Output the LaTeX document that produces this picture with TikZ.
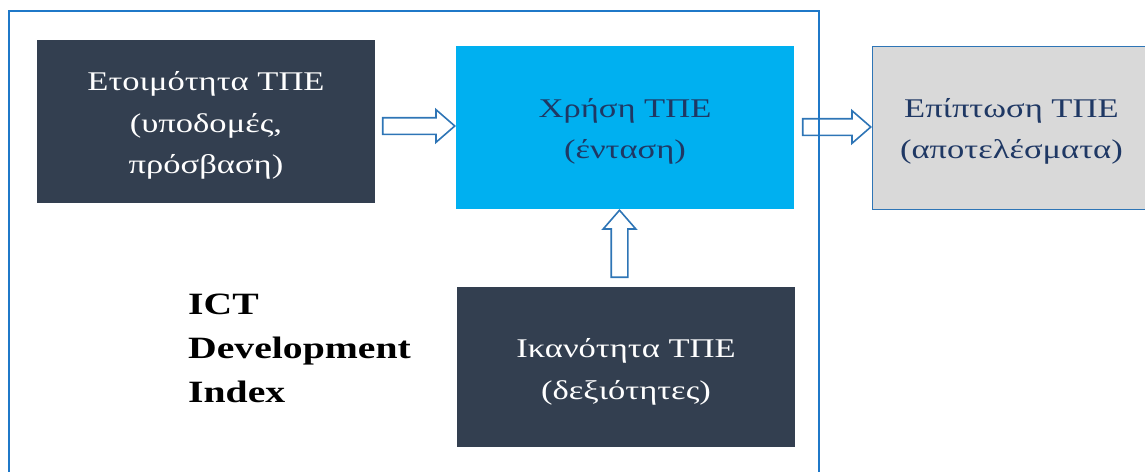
\documentclass[tikz,border=0pt]{standalone}
\usepackage{fontspec}
\setmainfont{Liberation Serif}[FakeStretch=1.28]
\usetikzlibrary{shapes.arrows}
\definecolor{slate}{HTML}{333F50}
\definecolor{skyfill}{HTML}{00B0F0}
\definecolor{greyfill}{HTML}{D9D9D9}
\definecolor{lineblue}{HTML}{2E75B6}
\definecolor{framblue}{HTML}{1F78C8}
\definecolor{navy}{HTML}{1F3864}
\tikzset{
  darkbox/.style={rectangle, fill=slate, draw=none,
    minimum width=338pt, minimum height=163pt, inner sep=0pt},
  boxtext/.style={align=center, inner sep=0pt, text=white,
    font=\fontsize{27}{41.5}\selectfont},
  navytext/.style={boxtext, text=navy},
  blockarrow/.style={single arrow, draw=lineblue, line width=1.6pt, fill=white,
    minimum width=31pt, single arrow head extend=8pt, single arrow tip angle=82,
    inner xsep=0pt, inner ysep=7.5pt, outer sep=0pt, font=\fontsize{1}{1}\selectfont},
}
\begin{document}
\begin{tikzpicture}[x=1pt,y=-1pt]
\useasboundingbox (0,0) rectangle (1145,471);
\begin{scope}
\clip (0,0) rectangle (1145,471);
% outer frame of the index
\draw[framblue, line width=2pt] (8.5,480) -- (8.5,10.5) -- (819,10.5) -- (819,480);

\node[darkbox] (ready) at (206,121.5) {};
\node[boxtext] (readyt) at ([yshift=-4pt]ready.center) {Ετοιμότητα ΤΠΕ\\(υποδομές,\\πρόσβαση)};

\node[darkbox, fill=skyfill] (use) at (625,127.5) {};
\node[navytext] (uset) at ([yshift=-4pt]use.center) {Χρήση ΤΠΕ\\(ένταση)};

\node[darkbox, fill=greyfill, draw=lineblue, line width=0.8pt, minimum width=280pt,
  anchor=west] (impact) at (872,127.5) {};
\node[navytext] (impactt) at ([xshift=-1pt,yshift=-4pt]impact.center) {Επίπτωση ΤΠΕ\\(αποτελέσματα)};

\node[darkbox, minimum height=160pt] (skill) at (626,367) {};
\node[boxtext] (skillt) at ([yshift=-5pt]skill.center) {Ικανότητα ΤΠΕ\\(δεξιότητες)};

\node[font=\fontsize{31}{44}\selectfont\bfseries, align=left, anchor=north west,
  inner sep=0pt] (idx) at (188,294) {ICT\\Development\\Index};

% block arrows between the stages
\node[blockarrow, minimum height=72pt] (ar1) at (414,126) {};
\node[blockarrow, minimum height=68pt] (ar3) at (832,127) {};
\node[blockarrow, minimum height=67pt, rotate=90] (ar2) at (619.5,248.5) {};
\draw[framblue, line width=2pt] (819,100) -- (819,150);
\end{scope}
\end{tikzpicture}
\end{document}
